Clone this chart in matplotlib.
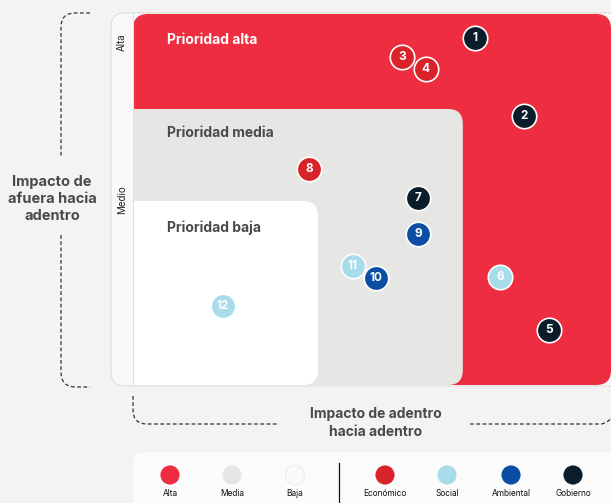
import numpy as np
import matplotlib
matplotlib.use("Agg")
import matplotlib.pyplot as plt
from matplotlib.patches import FancyBboxPatch, PathPatch
from matplotlib.path import Path

plt.rcParams['font.family'] = ['Inter', 'DejaVu Sans']

# data: issue number, impact inward (x, 0-100), impact outward (y, 0-100), dimension
ids = [1, 2, 3, 4, 5, 6, 7, 8, 9, 10, 11, 12]
x_in = [71.6, 81.8, 56.3, 61.2, 87.0, 76.8, 59.6, 36.8, 59.6, 50.8, 46.0, 18.8]
y_out = [93.5, 72.6, 88.5, 85.2, 14.8, 29.0, 50.4, 58.2, 40.7, 28.8, 32.1, 21.3]
dims = ['Gobierno', 'Gobierno', 'Económico', 'Económico', 'Gobierno', 'Social',
        'Gobierno', 'Económico', 'Ambiental', 'Ambiental', 'Social', 'Social']

# priority zones (upper bounds on 0-100 scale)
zone_names = ['Prioridad alta', 'Prioridad media', 'Prioridad baja']
zone_x = [100, 69.0, 38.7]
zone_y = [100, 74.4, 49.6]
zone_colors = ['#ef2d40', '#e6e6e5', '#ffffff']

dim_names = ['Económico', 'Social', 'Ambiental', 'Gobierno']
dim_colors = ['#d9232a', '#a8dceb', '#0a4da2', '#0b1c2b']
prio_names = ['Alta', 'Media', 'Baja']
prio_colors = ['#ef2d40', '#e6e6e5', '#fafafa']

BG = '#f4f3f1'
TXT = '#4a4a4a'

fig = plt.figure(figsize=(6.11, 5.03), dpi=100)
fig.patch.set_facecolor(BG)

# background layer in pixel coordinates for decorations
bg = fig.add_axes([0, 0, 1, 1])
bg.set_xlim(0, 611)
bg.set_ylim(503, 0)
bg.axis('off')

# side strip holding the Alta / Medio labels
bg.add_patch(FancyBboxPatch((111, 13), 540, 373, boxstyle="round,pad=0,rounding_size=14",
                            fc='#f9f9fb', ec='#dedede', lw=0.8))
bg.text(122, 42, 'Alta', rotation=90, ha='center', va='center', fontsize=7, color='#222222')
bg.text(122, 200, 'Medio', rotation=90, ha='center', va='center', fontsize=7, color='#222222')

# dashed brackets
def dashed(verts, codes):
    bg.add_patch(PathPatch(Path(verts, codes), fill=False, ec='#333333', lw=0.9,
                           linestyle=(0, (3, 2))))

M, L, C = Path.MOVETO, Path.LINETO, Path.CURVE3
dashed([(90, 13), (75, 13), (61, 13), (61, 27), (61, 157)], [M, L, C, C, L])
dashed([(61, 235), (61, 372), (61, 387), (76, 387), (90, 387)], [M, L, C, C, L])
dashed([(133, 396), (133, 410), (133, 424), (147, 424), (278, 424)], [M, L, C, C, L])
dashed([(470, 424), (600, 424), (609, 424), (613, 414)], [M, L, C, C])

bg.text(52, 199, 'Impacto de\nafuera hacia\nadentro', ha='center', va='center',
        fontsize=10.5, fontweight='bold', color=TXT, linespacing=1.3)
bg.text(376, 423, 'Impacto de adentro\nhacia adentro', ha='center', va='center',
        fontsize=10, fontweight='bold', color=TXT, linespacing=1.35)

# legend box
bg.add_patch(FancyBboxPatch((133, 452), 520, 80, boxstyle="round,pad=0,rounding_size=12",
                            fc='#fbfbfb', ec='none'))
leg_x = [170, 232, 295, 385, 447, 511, 573]
leg_names = prio_names + dim_names
leg_colors = prio_colors + dim_colors
bg.scatter(leg_x, [475] * len(leg_x), s=190, c=leg_colors,
           edgecolors=['none', 'none', '#ececec', 'none', 'none', 'none', 'none'],
           linewidths=0.8, zorder=3)
for lx, name in zip(leg_x, leg_names):
    bg.text(lx, 494, name, ha='center', va='center', fontsize=6, color='#111111')
bg.plot([339, 339], [463, 503], color='#111111', lw=0.9)

# matrix
ax = fig.add_axes([133 / 611, 118 / 503, 478 / 611, 371 / 503])
ax.set_xlim(0, 100)
ax.set_ylim(0, 100)
ax.axis('off')
asp = (478 / 100) / (371 / 100)
for zx, zy, col in zip(zone_x, zone_y, zone_colors):
    x0 = 0 if zx == 100 else -10
    ax.add_patch(FancyBboxPatch((x0, 0), zx - x0, zy,
                                boxstyle="round,pad=0,rounding_size=3.1",
                                mutation_aspect=asp, fc=col, ec='none'))
ax.plot([0, 0], [0, 100], color='#e0e0e0', lw=0.8, clip_on=False)

ax.text(7.1, 93.0, zone_names[0], fontsize=10, fontweight='bold', color='white', va='center')
ax.text(7.1, 68.0, zone_names[1], fontsize=10, fontweight='bold', color=TXT, va='center')
ax.text(7.1, 42.5, zone_names[2], fontsize=10, fontweight='bold', color=TXT, va='center')

color_of = dict(zip(dim_names, dim_colors))
order = np.argsort(-np.array(y_out))
for k, i in enumerate(order):
    ax.scatter(x_in[i], y_out[i], s=310, color=color_of[dims[i]], edgecolors='white',
               linewidths=1.2, zorder=5 + 2 * k, clip_on=False)
    ax.text(x_in[i], y_out[i], str(ids[i]), ha='center', va='center', color='white',
            fontsize=8.5, fontweight='bold', zorder=6 + 2 * k)

fig.savefig('out.png', dpi=100, facecolor=BG)
